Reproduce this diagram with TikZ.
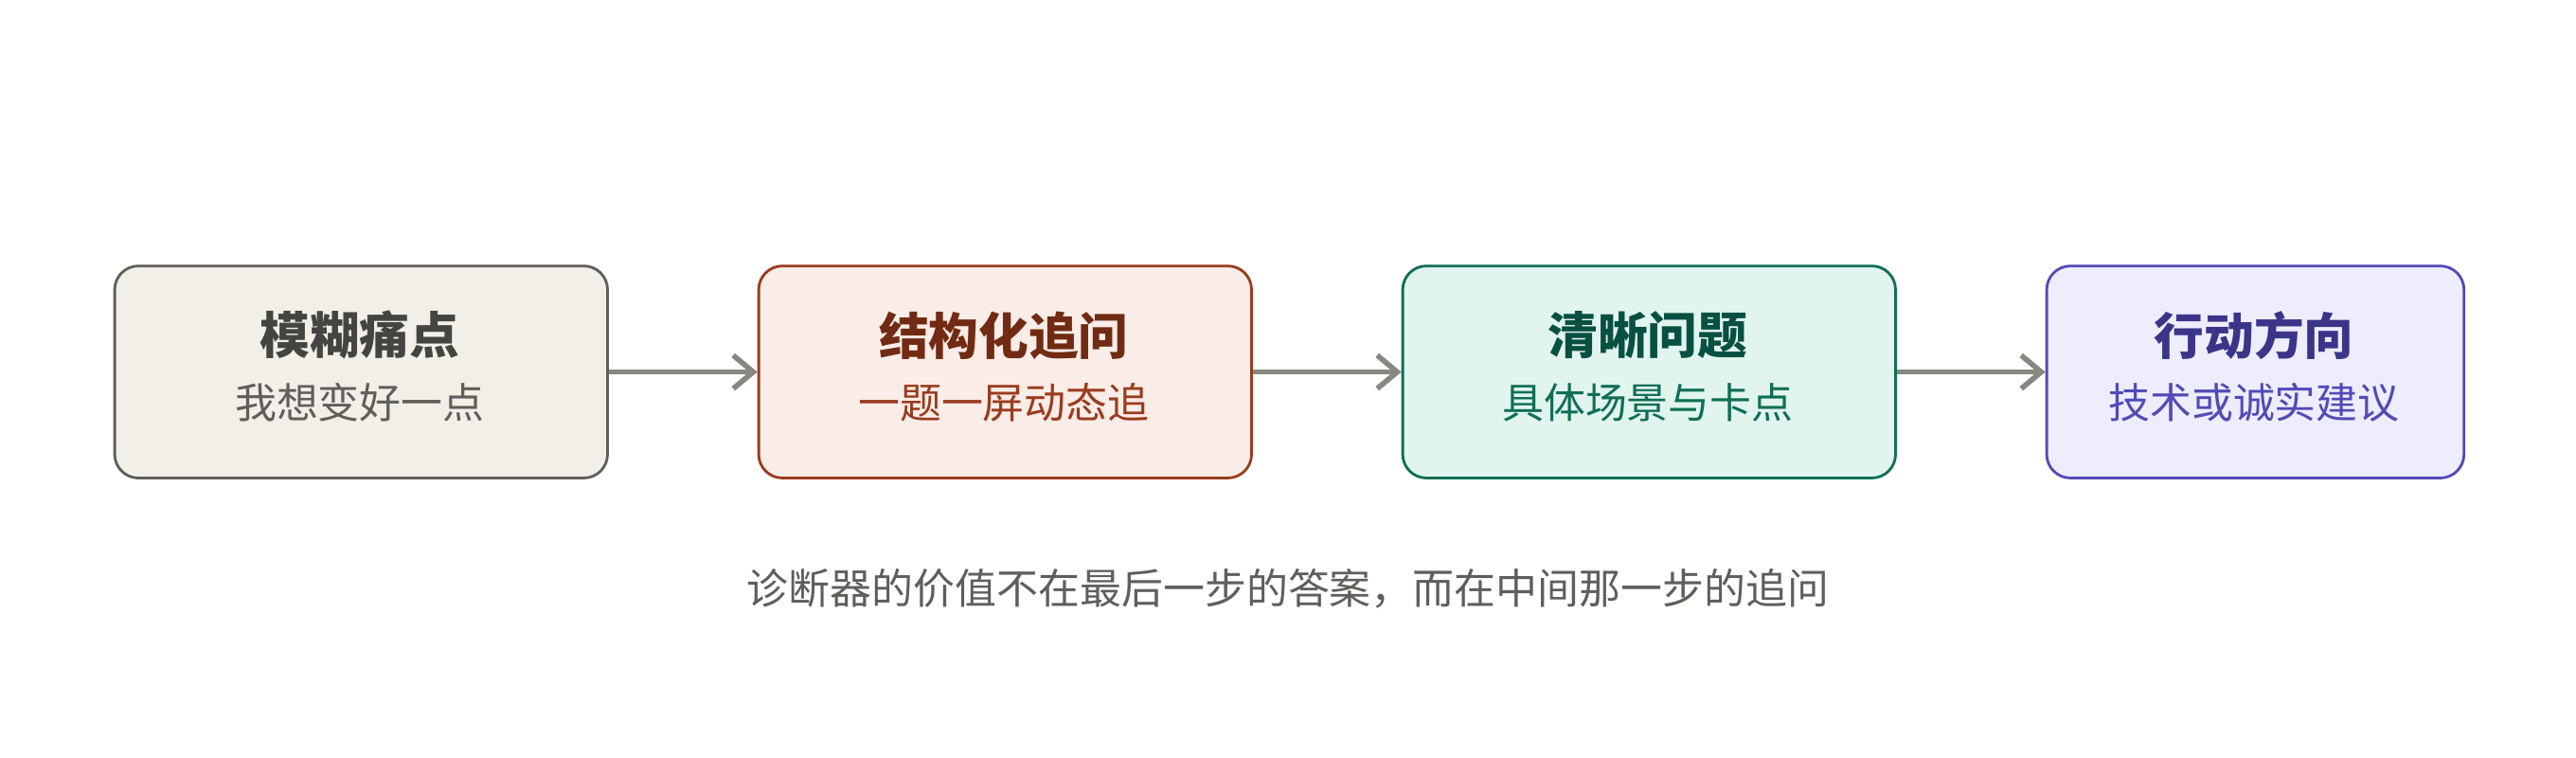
\documentclass[tikz,border=0pt]{standalone}
\usepackage{fontspec}
\setmainfont{Noto Sans CJK SC}
\usetikzlibrary{arrows.meta}
\definecolor{g1}{HTML}{F1EFE8}\definecolor{g2}{HTML}{5F5E5A}\definecolor{g3}{HTML}{444441}
\definecolor{r1}{HTML}{FAECE7}\definecolor{r2}{HTML}{993C1D}\definecolor{r3}{HTML}{712B13}
\definecolor{t1}{HTML}{E1F5EE}\definecolor{t2}{HTML}{0F6E56}\definecolor{t3}{HTML}{085041}
\definecolor{p1}{HTML}{EEEDFE}\definecolor{p2}{HTML}{534AB7}\definecolor{p3}{HTML}{3C3489}
\definecolor{ar}{HTML}{888780}
\begin{document}
\begin{tikzpicture}[x=0.01735cm,y=-0.01735cm,
 box/.style={draw=#1,line width=0.8pt,rounded corners=0.25cm,anchor=north west,inner sep=0pt},
 ttl/.style={font=\fontsize{15}{18}\selectfont\bfseries},
 sub/.style={font=\fontsize{12.5}{15}\selectfont},
 arr/.style={draw=ar,line width=1.6pt,-{Straight Barb[length=6pt,width=10pt]}}]
\useasboundingbox (0,0) rectangle (1568,461);
\node[box=g2,fill=g1,minimum width=300*0.01735cm,minimum height=129*0.01735cm] (a) at (69,161) {};
\node[box=r2,fill=r1,minimum width=300*0.01735cm,minimum height=129*0.01735cm] (b) at (461,161) {};
\node[box=t2,fill=t1,minimum width=300*0.01735cm,minimum height=129*0.01735cm] (c) at (853,161) {};
\node[box=p2,fill=p1,minimum width=254*0.01735cm,minimum height=129*0.01735cm] (d) at (1245,161) {};
\node[ttl,text=g3] (a1) at (219,204) {模糊痛点};
\node[sub,text=g2] (a2) at (219,245) {我想变好一点};
\node[ttl,text=r3] (b1) at (611,204) {结构化追问};
\node[sub,text=r2] (b2) at (611,245) {一题一屏动态追};
\node[ttl,text=t3] (c1) at (1003,204) {清晰问题};
\node[sub,text=t2] (c2) at (1003,245) {具体场景与卡点};
\node[ttl,text=p3] (d1) at (1372,204) {行动方向};
\node[sub,text=p2] (d2) at (1372,245) {技术或诚实建议};
\draw[arr] (a.east) -- (b.west);
\draw[arr] (b.east) -- (c.west);
\draw[arr] (c.east) -- (d.west);
\node[sub,text=g2] (cap) at (784,358) {诊断器的价值不在最后一步的答案，而在中间那一步的追问};
\end{tikzpicture}
\end{document}
